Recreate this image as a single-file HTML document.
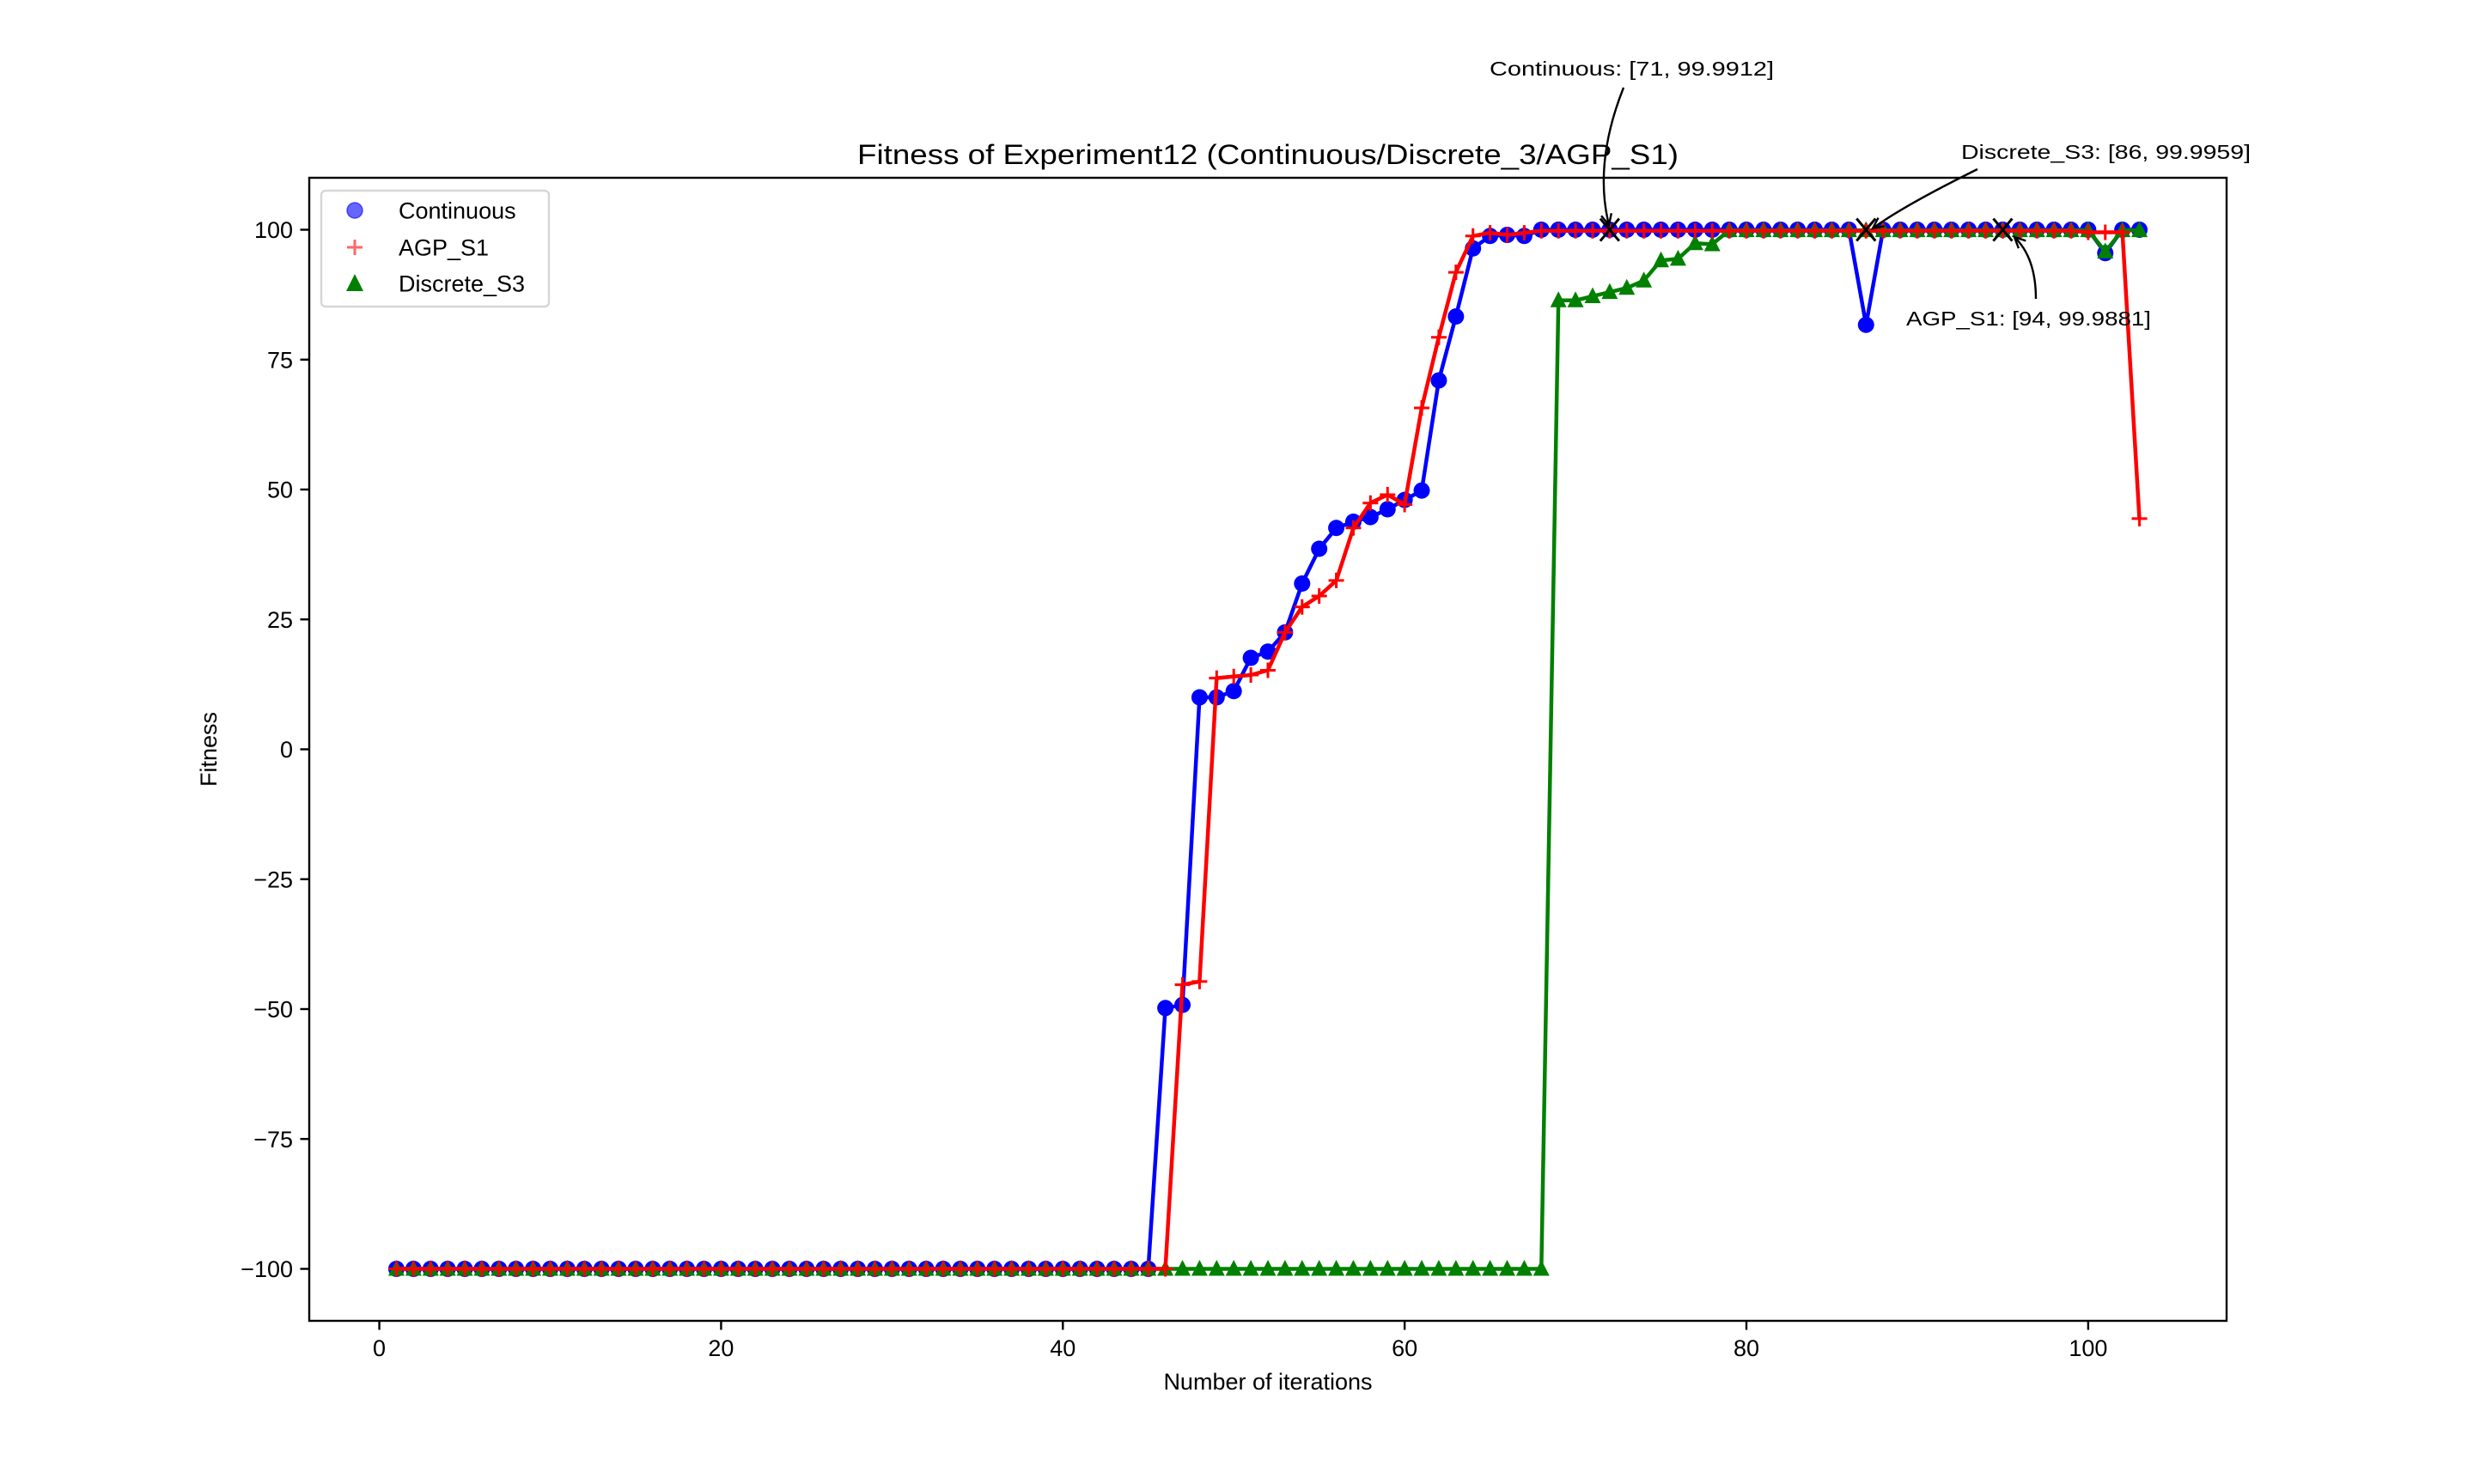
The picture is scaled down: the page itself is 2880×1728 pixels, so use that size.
<!DOCTYPE html>
<html><head><meta charset="utf-8"><style>
html,body{margin:0;padding:0;background:#fff;}
svg{display:block;font-family:"Liberation Sans","DejaVu Sans",sans-serif;}
</style></head><body>
<svg id="chart" width="2880" height="1728" viewBox="0 0 2880 1728" xmlns="http://www.w3.org/2000/svg">
<rect x="0" y="0" width="2880" height="1728" fill="#fff"/>
<g id="plot"></g>
</svg>
<script>
const iterations = Array.from({length:103},(_, i)=>i+1);
const continuousValues = [
-100,-100,-100,-100,-100,-100,-100,-100,-100,-100,
-100,-100,-100,-100,-100,-100,-100,-100,-100,-100,
-100,-100,-100,-100,-100,-100,-100,-100,-100,-100,
-100,-100,-100,-100,-100,-100,-100,-100,-100,-100,
-100,-100,-100,-100,-100,-49.8,-49.2,10,10,11.2,
17.6,18.8,22.5,31.9,38.6,42.6,43.8,44.7,46.2,48,
49.8,71,83.3,96.4,98.8,99,98.8,100,100,100,
100,100,100,100,100,100,100,100,100,100,
100,100,100,100,100,100,81.7,100,100,100,
100,100,100,100,100,100,100,100,100,100,
95.5,100,100];
const agpValues = [
-100,-100,-100,-100,-100,-100,-100,-100,-100,-100,
-100,-100,-100,-100,-100,-100,-100,-100,-100,-100,
-100,-100,-100,-100,-100,-100,-100,-100,-100,-100,
-100,-100,-100,-100,-100,-100,-100,-100,-100,-100,
-100,-100,-100,-100,-100,-100,-45.3,-44.7,13.7,14,
14.3,15.2,22.5,27.4,29.5,32.5,42.6,47.4,49,47.1,
65.7,79.3,91.8,98.8,99.4,99,99.4,99.8,99.8,99.8,
99.8,99.8,99.8,99.8,99.8,99.8,99.8,99.8,99.8,99.8,
99.8,99.8,99.8,99.8,99.8,99.8,99.8,99.8,99.8,99.8,
99.8,99.8,99.8,99.8,99.8,99.8,99.8,99.8,99.8,99.5,
99.5,99.5,44.4];
const discreteValues = [
-100,-100,-100,-100,-100,-100,-100,-100,-100,-100,
-100,-100,-100,-100,-100,-100,-100,-100,-100,-100,
-100,-100,-100,-100,-100,-100,-100,-100,-100,-100,
-100,-100,-100,-100,-100,-100,-100,-100,-100,-100,
-100,-100,-100,-100,-100,-100,-100,-100,-100,-100,
-100,-100,-100,-100,-100,-100,-100,-100,-100,-100,
-100,-100,-100,-100,-100,-100,-100,-100,86.4,86.4,
87.2,88,88.8,90.2,94.1,94.4,97.4,97.2,99.9,99.9,
99.9,99.9,99.9,99.9,99.9,99.9,99.9,99.9,99.9,99.9,
99.9,99.9,99.9,99.9,99.9,99.9,99.9,99.9,99.9,99.9,
95.8,99.9,99.9];
const xTicks = [0,20,40,60,80,100];
const yTicks = [-100,-75,-50,-25,0,25,50,75,100];
const yTickLabels = ["\u2212100","\u221275","\u221250","\u221225","0","25","50","75","100"];
const bestLabels = ["Continuous: [71, 99.9912]","Discrete_S3: [86, 99.9959]","AGP_S1: [94, 99.9881]"];
const bestX = [72,87,95];
const bestY = [99.9912,99.9959,99.9881];

const L=360,R=2592,T=207,B=1538;
const xmin=-4.1,xmax=108.1,ymin=-110,ymax=110;
function xs(v){return L+(v-xmin)/(xmax-xmin)*(R-L);}
function ys(v){return B-(v-ymin)/(ymax-ymin)*(B-T);}
const NS="http://www.w3.org/2000/svg";
const svg=document.getElementById('chart');
function mk(tag,attrs,parent){const e=document.createElementNS(NS,tag);for(const k in attrs)e.setAttribute(k,attrs[k]);(parent||svg).appendChild(e);return e;}

const frame=mk('rect',{x:L,y:T,width:R-L,height:B-T,fill:'none',stroke:'#000','stroke-width':2.4});



xTicks.forEach((t,i)=>{
  const tk=mk('line',{x1:xs(t),x2:xs(t),y1:B,y2:B+10.5,stroke:'#000','stroke-width':2.4});
  
  
  const tx=mk('text',{x:xs(t),y:B+41,'font-size':27,'text-anchor':'middle',fill:'#000'});
  tx.textContent=String(t);
  
  
});
yTicks.forEach((t,i)=>{
  const tk=mk('line',{x1:L-10.5,x2:L,y1:ys(t),y2:ys(t),stroke:'#000','stroke-width':2.4});
  
  
  const tx=mk('text',{x:L-19,y:ys(t)+9.5,'font-size':27,'text-anchor':'end',fill:'#000'});
  tx.textContent=yTickLabels[i];
  
  
});

const xl=mk('text',{x:(L+R)/2,y:1618,'font-size':27,'text-anchor':'middle',fill:'#000'});
xl.textContent='Number of iterations';


const yl=mk('text',{x:0,y:0,'font-size':27,'text-anchor':'middle',fill:'#000',transform:'translate(252,'+((T+B)/2)+') rotate(-90)'});
yl.textContent='Fitness';


const ti=mk('text',{x:(L+R)/2,y:191,'font-size':32,'text-anchor':'middle',fill:'#000',textLength:956,lengthAdjust:'spacingAndGlyphs'});
ti.textContent='Fitness of Experiment12 (Continuous/Discrete_3/AGP_S1)';



function lineFor(vals,color,name){
  const d=vals.map((v,i)=>(i?'L':'M')+xs(iterations[i]).toFixed(1)+' '+ys(v).toFixed(1)).join(' ');
  const p=mk('path',{d:d,fill:'none',stroke:color,'stroke-width':4.5,'stroke-linejoin':'round'});
  
  
}
lineFor(continuousValues,'#0000ff','continuous-line');
continuousValues.forEach((v,i)=>{
  const c=mk('circle',{cx:xs(iterations[i]),cy:ys(v),r:9.5,fill:'#0000ff'});
  
  
});
lineFor(discreteValues,'#008000','discrete-s3-line');
discreteValues.forEach((v,i)=>{
  const x=xs(iterations[i]),y=ys(v);
  const p=mk('path',{d:`M${x} ${y-10.5} L${x+9.5} ${y+8} L${x-9.5} ${y+8} Z`,fill:'#008000'});
  
  
});
lineFor(agpValues,'#ff0000','agp-s1-line');
agpValues.forEach((v,i)=>{
  const x=xs(iterations[i]),y=ys(v);
  const p=mk('path',{d:`M${x-9} ${y} H${x+9} M${x} ${y-9} V${y+9}`,stroke:'#ff0000','stroke-width':3});
  
  
});

bestX.forEach((bx,i)=>{
  const x=xs(bx),y=ys(bestY[i]);
  const p=mk('path',{d:`M${x-11} ${y-13} L${x+11} ${y+13} M${x+11} ${y-13} L${x-11} ${y+13}`,stroke:'#000','stroke-width':3});
  
  
});
const annPos=[[1734,88],[2283,185],[2219,379]];
const annW=[331,337,285];
const arrows=[
  [1890,102, 1855,190, 1873,262],
  [2302,197, 2215,240, 2180,266],
  [2370,348, 2370,300, 2345,276]
];
bestLabels.forEach((lab,i)=>{
  const t=mk('text',{x:annPos[i][0],y:annPos[i][1],'font-size':23,fill:'#000',textLength:annW[i],lengthAdjust:'spacingAndGlyphs'});
  t.textContent=lab;
  
  
  const a=arrows[i];
  const p=mk('path',{d:`M${a[0]} ${a[1]} Q${a[2]} ${a[3]} ${a[4]} ${a[5]}`,fill:'none',stroke:'#000','stroke-width':2.4});
  
  
  const ang=Math.atan2(a[5]-a[3],a[4]-a[2]);
  const hx=a[4],hy=a[5],s=14;
  const h=mk('path',{d:`M${hx-s*Math.cos(ang-0.45)} ${hy-s*Math.sin(ang-0.45)} L${hx} ${hy} L${hx-s*Math.cos(ang+0.45)} ${hy-s*Math.sin(ang+0.45)}`,fill:'none',stroke:'#000','stroke-width':2.4});
  
  
});

const lg=mk('g',{});


const lb=mk('rect',{x:374,y:222,width:265,height:135,rx:5,fill:'#fff','fill-opacity':0.8,stroke:'#d6d6d6','stroke-width':2.4},lg);


const legNames=['Continuous','AGP_S1','Discrete_S3'];
const legY=[245,288,330];
legNames.forEach((n,i)=>{
  const y=legY[i],x=413;
  let m;
  if(i===0) m=mk('circle',{cx:x,cy:y,r:9,fill:'#0000ff','fill-opacity':0.6,stroke:'#0000ff','stroke-opacity':0.6,'stroke-width':1.5},lg);
  else if(i===1) m=mk('path',{d:`M${x-9} ${y} H${x+9} M${x} ${y-9} V${y+9}`,stroke:'#ff0000','stroke-opacity':0.6,'stroke-width':3},lg);
  else m=mk('path',{d:`M${x} ${y-11} L${x+10} ${y+9} L${x-10} ${y+9} Z`,fill:'#008000'},lg);
  
  
  const t=mk('text',{x:464,y:y+9.5,'font-size':27,fill:'#000'},lg);
  t.textContent=n;
  
  
});
</script>
</body></html>
